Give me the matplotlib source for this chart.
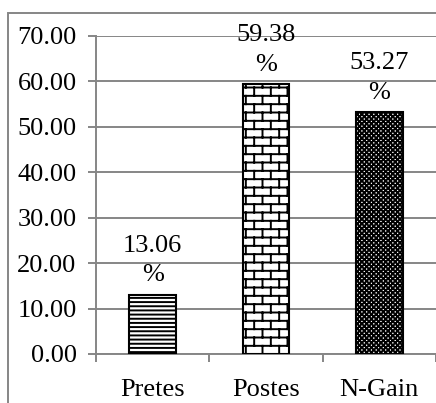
import warnings
import numpy as np
import matplotlib
matplotlib.use("Agg")
import matplotlib.pyplot as plt
import matplotlib.hatch as mhatch
from matplotlib.path import Path
from matplotlib.patches import Rectangle

warnings.filterwarnings("ignore")

categories = ["Pretes", "Postes", "N-Gain"]
values = [13.06, 59.38, 53.27]
hatches = ["----", "bb", "xxxxxxx"]
yticks = [0, 10, 20, 30, 40, 50, 60, 70]


# brick pattern, not available in matplotlib by default
class BrickHatch(mhatch.HatchPatternBase):
    def __init__(self, hatch, density):
        self.rows = int(hatch.count('b') * density)
        self.per_row = self.rows // 2
        self.num_vertices = self.rows * 2 + (self.rows + 1) * self.per_row * 2

    def set_vertices_and_codes(self, vertices, codes):
        h = 1.0 / self.rows
        w = 1.0 / self.per_row
        k = 0
        for r in range(self.rows):
            y = (r + 0.5) * h
            vertices[k] = (0, y)
            vertices[k + 1] = (1, y)
            codes[k] = Path.MOVETO
            codes[k + 1] = Path.LINETO
            k += 2
            shift = w / 2 if r % 2 else 0
            y1 = min(y + h, 1.0)
            for c in range(self.per_row):
                x = c * w + shift + w / 4
                vertices[k] = (x, y)
                vertices[k + 1] = (x, y1)
                codes[k] = Path.MOVETO
                codes[k + 1] = Path.LINETO
                k += 2
        # wrapped part of the last row
        shift = w / 2 if (self.rows - 1) % 2 else 0
        for c in range(self.per_row):
            x = c * w + shift + w / 4
            vertices[k] = (x, 0)
            vertices[k + 1] = (x, h / 2)
            codes[k] = Path.MOVETO
            codes[k + 1] = Path.LINETO
            k += 2


mhatch._hatch_types.append(BrickHatch)

plt.rcParams['font.family'] = ['Liberation Serif', 'DejaVu Serif']
plt.rcParams['hatch.linewidth'] = 1.4
plt.rcParams['hatch.color'] = 'black'

grey = '#868686'
fs = 19

fig = plt.figure(figsize=(4.36, 4.03), dpi=100)
ax = fig.add_axes([96 / 436, 49 / 403, 1 - 96 / 436, 318 / 403])

x = np.arange(len(categories))
bars = ax.bar(x, values, width=0.41, color='white', edgecolor='black',
              linewidth=1.5, zorder=3)
for b, h in zip(bars, hatches):
    b.set_hatch(h)

for xi, v in zip(x, values):
    ax.annotate(f"{v:.2f}\n%", (xi, v), xytext=(0, 6), textcoords='offset points',
                ha='center', va='bottom', fontsize=fs, linespacing=1.45, zorder=4)

ax.set_ylim(0, 70)
ax.set_xlim(-0.5, 2.42)
ax.set_yticks(yticks)
ax.set_yticklabels([f"{t:.2f}" for t in yticks])
ax.tick_params(axis='y', labelsize=fs, color=grey, length=6, width=1.4, pad=8)

ax.set_xticks([-0.5, 0.5, 1.5, 2.5])
ax.set_xticklabels([])
ax.set_xticks(x, minor=True)
ax.set_xticklabels(categories, minor=True)
ax.tick_params(axis='x', which='major', color=grey, length=6, width=1.4)
ax.tick_params(axis='x', which='minor', length=0, labelsize=fs, pad=18)

ax.grid(axis='y', color=grey, linewidth=1.4, zorder=0)
ax.set_axisbelow(True)
for s in ['top', 'right']:
    ax.spines[s].set_visible(False)
for s in ['left', 'bottom']:
    ax.spines[s].set_color(grey)
    ax.spines[s].set_linewidth(1.4)

# outer chart border
fig.patches.append(Rectangle((8 / 436, -0.2), 1.2, 1.2 - 13 / 403,
                             transform=fig.transFigure, fill=False,
                             edgecolor=grey, linewidth=1.4))

fig.savefig("out.png", dpi=100)
